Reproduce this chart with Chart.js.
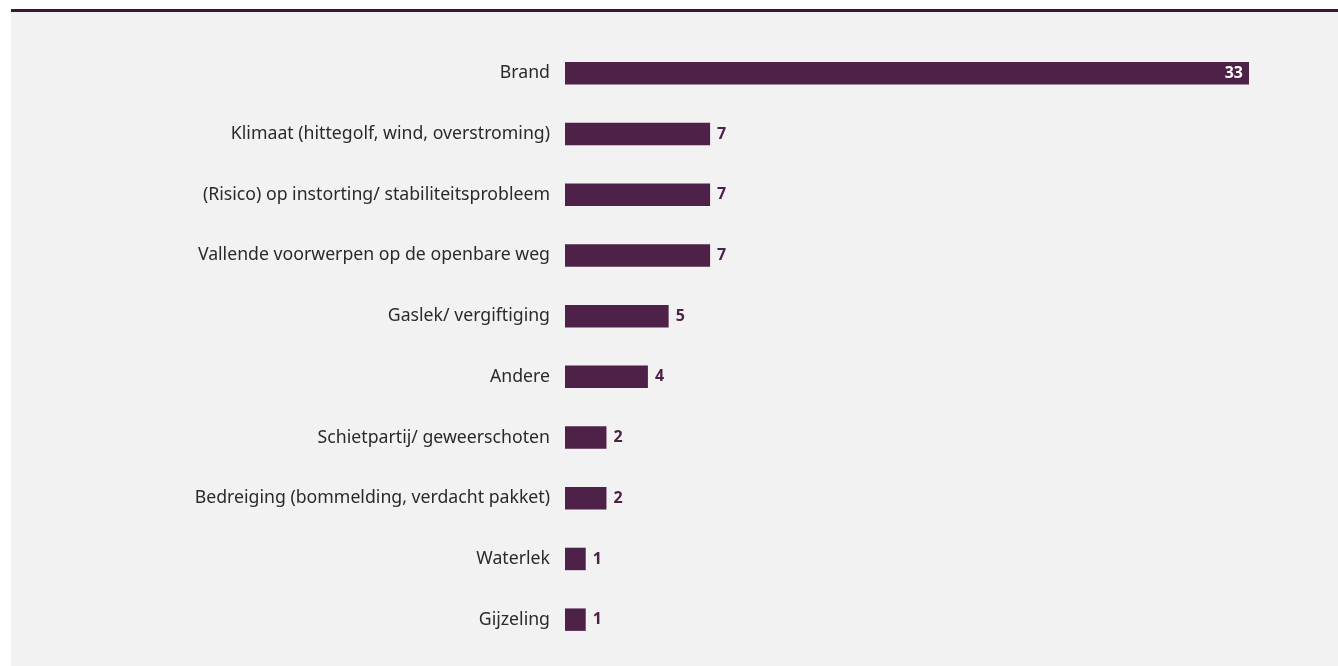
<!DOCTYPE html>
<html>
<head>
<meta charset="utf-8">
<script src="https://cdn.jsdelivr.net/npm/chart.js@4"></script>
<style>
    html, body { margin: 0; padding: 0; background: #fff; overflow: hidden; }
    .frame {
        position: absolute; left: 11px; top: 9px; width: 1327px; height: 654px;
        border-top: 3px solid #3b1736; background: #f2f2f2;
    }
    #chartWrap { position: absolute; left: 0; top: 0; width: 1338px; height: 700px; }
</style>
</head>
<body>
<div class="frame"></div>
<div id="chartWrap"><canvas id="incidentChart"></canvas></div>
<script>
const categories = [
    'Brand',
    'Klimaat (hittegolf, wind, overstroming)',
    '(Risico) op instorting/ stabiliteitsprobleem',
    'Vallende voorwerpen op de openbare weg',
    'Gaslek/ vergiftiging',
    'Andere',
    'Schietpartij/ geweerschoten',
    'Bedreiging (bommelding, verdacht pakket)',
    'Waterlek',
    'Gijzeling'
];
const counts = [33, 7, 7, 7, 5, 4, 2, 2, 1, 1];

const barColor = '#4e2248';

// draws the numbers at the end of each bar
const valueLabels = {
    id: 'valueLabels',
    afterDatasetsDraw(chart) {
        const ctx = chart.ctx;
        const meta = chart.getDatasetMeta(0);
        ctx.save();
        ctx.font = 'bold 16px "Noto Sans", sans-serif';
        ctx.textBaseline = 'middle';
        meta.data.forEach((bar, i) => {
            const v = counts[i];
            if (v >= 20) {
                ctx.fillStyle = '#ffffff';
                ctx.textAlign = 'right';
                ctx.fillText(v, bar.x - 6, bar.y);
            } else {
                ctx.fillStyle = barColor;
                ctx.textAlign = 'left';
                ctx.fillText(v, bar.x + 7, bar.y);
            }
        });
        ctx.restore();
    }
};

new Chart(document.getElementById('incidentChart'), {
    type: 'bar',
    data: {
        labels: categories,
        datasets: [{
            data: counts,
            backgroundColor: barColor,
            barPercentage: 0.37,
            categoryPercentage: 1
        }]
    },
    options: {
        indexAxis: 'y',
        responsive: true,
        maintainAspectRatio: false,
        animation: false,
        layout: { padding: { top: 43, bottom: 50, right: 89, left: 0 } },
        plugins: {
            legend: { display: false },
            tooltip: { enabled: false }
        },
        scales: {
            x: {
                min: 0, max: 33,
                display: false
            },
            y: {
                grid: { display: false, drawTicks: false },
                border: { display: false },
                ticks: {
                    color: '#2a2a2a',
                    padding: 15,
                    font: { family: '"Noto Sans", sans-serif', size: 17.7 }
                },
                afterFit(scale) { scale.width = 565; }
            }
        }
    },
    plugins: [valueLabels]
});
</script>
</body>
</html>
